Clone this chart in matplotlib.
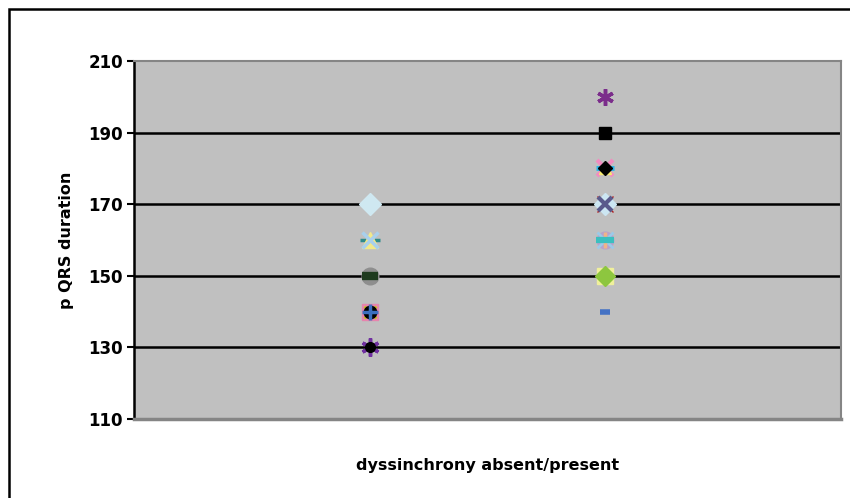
import matplotlib.pyplot as plt
import matplotlib.patches as mpatches
import numpy as np

plt.rcParams['font.family'] = ['DejaVu Sans']
plt.rcParams['font.weight'] = 'bold'

# group: 1 = dyssynchrony absent, 2 = dyssynchrony present
group = [1, 1, 1, 1, 1, 1, 1, 1, 1, 1, 1, 1,
         2, 2, 2, 2, 2, 2, 2, 2, 2, 2, 2, 2, 2, 2, 2, 2]
pqrs = [170, 160, 160, 160, 150, 150, 140, 140, 140, 140, 130, 130,
        200, 190, 180, 180, 180, 180, 170, 170, 170, 160, 160, 160, 160, 150, 150, 140]

# marker, colour, size, edge width (one entry per point above)
styles = [
    ('D', '#cfe8f1', 11, 1),
    ('_', '#2e8b8b', 14, 2.5),
    ('^', '#f2e98a', 11, 1),
    ('x', '#a8d0ec', 11, 2.5),
    ('o', '#8e8e8e', 12, 1),
    ('_', '#1e3b1e', 12, 6),
    ('s', '#e784ad', 11, 1),
    ('x', '#c8c020', 9, 2),
    ('o', '#000000', 9, 1),
    ('+', '#3c6fbf', 11, 2.5),
    ((6, 2, 0), '#7030a0', 13, 2.5),
    ('o', '#000000', 7, 1),
    ((6, 2, 0), '#7b2d8b', 12, 2.5),
    ('s', '#000000', 8, 1),
    ('x', '#f28cc0', 11, 3),
    ('^', '#f5ea70', 9, 1),
    ('_', '#2ab5e8', 13, 3.5),
    ('D', '#000000', 7, 1),
    ('x', '#b02020', 11, 1),
    ('D', '#cce6f2', 11, 1),
    ('x', '#5a5a8c', 10, 3),
    ('o', '#b8a2cc', 12, 1),
    ('x', '#9ccae8', 11, 2),
    ('|', '#f0b488', 11, 2.5),
    ('_', '#3bbfbf', 13, 4.5),
    ('s', '#f0f09c', 12, 1),
    ('D', '#8dc63f', 10, 1),
    ('_', '#4472c4', 7, 4),
]

fig = plt.figure(figsize=(8.5, 4.98), dpi=100)
fig.patches.append(mpatches.Rectangle((9 / 850, -20 / 498), 900 / 850, 509 / 498,
                                      transform=fig.transFigure, fill=False,
                                      edgecolor='black', linewidth=1.8))

ax = fig.add_axes([134 / 850, 79 / 498, 707 / 850, 358 / 498])
ax.set_facecolor('#c0c0c0')

for x, y, (m, c, s, w) in zip(group, pqrs, styles):
    if m in ('x', '+', '_', '|', '.') or isinstance(m, tuple):
        ax.plot(x, y, marker=m, color=c, markersize=s, markeredgewidth=w,
                linestyle='none', zorder=3)
    else:
        ax.plot(x, y, marker=m, markerfacecolor=c, markeredgecolor=c,
                markersize=s, linestyle='none', zorder=3)

ax.set_xlim(0, 3)
ax.set_ylim(110, 210)
ax.set_yticks(np.arange(110, 211, 20))
ax.set_xticks([])
ax.tick_params(axis='y', length=5, width=1.5, labelsize=12, pad=3)
for lab in ax.get_yticklabels():
    lab.set_fontweight('bold')

for yv in [130, 150, 170, 190]:
    ax.axhline(yv, color='black', linewidth=1.8, zorder=1)

for side in ['top', 'right', 'bottom']:
    ax.spines[side].set_color('#858585')
    ax.spines[side].set_linewidth(1.5)
ax.spines['bottom'].set_linewidth(2.5)
ax.spines['left'].set_color('black')
ax.spines['left'].set_linewidth(1.8)

ax.set_ylabel('p QRS duration', fontsize=11.5, fontweight='bold', labelpad=10)
ax.set_xlabel('dyssinchrony absent/present', fontsize=11.5, fontweight='bold',
              labelpad=28)

fig.savefig('out.png', dpi=100)
